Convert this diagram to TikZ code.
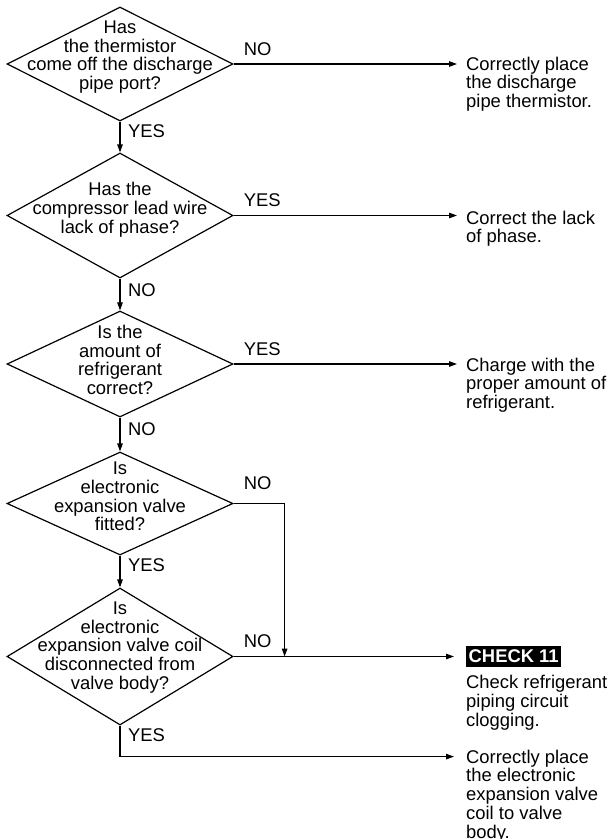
\documentclass[tikz,border=0pt]{standalone}
\usepackage{fontspec}
\setmainfont{Liberation Sans}
\usetikzlibrary{arrows.meta,positioning,shapes.geometric}

\newcommand{\flowfont}{\fontsize{18.4}{18.8}\selectfont}

\tikzset{
  flow/.style={line width=1.2pt},
  arr/.style={flow,-{Triangle[length=8pt,width=5.5pt]},shorten >=0pt},
  decision/.style={draw,diamond,line width=1.2pt,inner sep=0pt,minimum width=226pt},
  qtext/.style={align=center,font=\flowfont,inner sep=0pt},
  result/.style={align=left,anchor=north west,font=\flowfont,inner sep=0pt},
  ans/.style={font=\flowfont,inner sep=0pt},
  checkbox/.style={fill=black,text=white,font=\flowfont\bfseries,inner xsep=2.5pt,inner ysep=4pt}
}

\begin{document}
\begin{tikzpicture}[x=1pt,y=-1pt]
  \useasboundingbox (0,0) rectangle (612,839);

  % questions
  \node[decision,minimum height=114pt] (q1) at (120,64) {};
  \node[decision,minimum height=125pt] (q2) at (120,215.5) {};
  \node[decision,minimum height=106pt] (q3) at (120,364) {};
  \node[decision,minimum height=103pt] (q4) at (120,503.5) {};
  \node[decision,minimum height=137pt] (q5) at (120,656.5) {};

  \node[qtext] at ([yshift=7pt]q1.center) {Has\\the thermistor\\come off the discharge\\pipe port?};
  \node[qtext] at ([yshift=6pt]q2.center) {Has the\\compressor lead wire\\lack of phase?};
  \node[qtext] at ([yshift=4pt]q3.center) {Is the\\amount of\\refrigerant\\correct?};
  \node[qtext] at ([yshift=7pt]q4.center) {Is\\electronic\\expansion valve\\fitted?};
  \node[qtext] at ([yshift=9pt]q5.center) {Is\\electronic\\expansion valve coil\\disconnected from\\valve body?};

  % actions on the right
  \node[result] (r1) at (466,56.5) {Correctly place\\the discharge\\pipe thermistor.};
  \node[result] (r2) at (466,210.5) {Correct the lack\\of phase.};
  \node[result] (r3) at (466,357.5) {Charge with the\\proper amount of\\refrigerant.};
  \node[checkbox,anchor=west] (ck) at (466,656.5) {CHECK 11};
  \node[result,below=8pt of ck.south west,anchor=north west] (r4) {Check refrigerant\\piping circuit\\clogging.};
  \node[result] (r5) at (466,749.5) {Correctly place\\the electronic\\expansion valve\\coil to valve\\body.};

  % main line down
  \draw[arr] (q1.south) -- (q2.north);
  \draw[arr] (q2.south) -- (q3.north);
  \draw[arr] (q3.south) -- (q4.north);
  \draw[arr] (q4.south) -- (q5.north);

  % branches
  \draw[arr,shorten >=9pt] (q1.east) -- (q1.east -| r1.west);
  \draw[arr,shorten >=9pt] (q2.east) -- (q2.east -| r2.west);
  \draw[arr,shorten >=9pt] (q3.east) -- (q3.east -| r3.west);
  \draw[arr,shorten >=12pt] (q5.east) -- (ck.west);

  \coordinate (bend) at ([xshift=51pt]q4.east);
  \draw[arr] (q4.east) -- (bend) -- (bend |- q5.east);

  \coordinate (low) at ([yshift=-31pt]q5.south);
  \draw[arr,shorten >=12pt] (q5.south) -- (low) -- (low -| r5.west);

  % YES / NO
  \node[ans,anchor=north west] at ([xshift=8pt,yshift=-3pt]q1.south) {YES};
  \node[ans,anchor=north west] at ([xshift=8pt,yshift=-5pt]q2.south) {NO};
  \node[ans,anchor=north west] at ([xshift=8pt,yshift=-5pt]q3.south) {NO};
  \node[ans,anchor=north west] at ([xshift=8pt,yshift=-3pt]q4.south) {YES};
  \node[ans,anchor=north west] at ([xshift=8pt,yshift=-3pt]q5.south) {YES};

  \node[ans,anchor=south west] at ([xshift=10pt,yshift=8pt]q1.east) {NO};
  \node[ans,anchor=south west] at ([xshift=10pt,yshift=9pt]q2.east) {YES};
  \node[ans,anchor=south west] at ([xshift=10pt,yshift=8pt]q3.east) {YES};
  \node[ans,anchor=south west] at ([xshift=10pt,yshift=14pt]q4.east) {NO};
  \node[ans,anchor=south west] at ([xshift=10pt,yshift=9pt]q5.east) {NO};
\end{tikzpicture}
\end{document}
